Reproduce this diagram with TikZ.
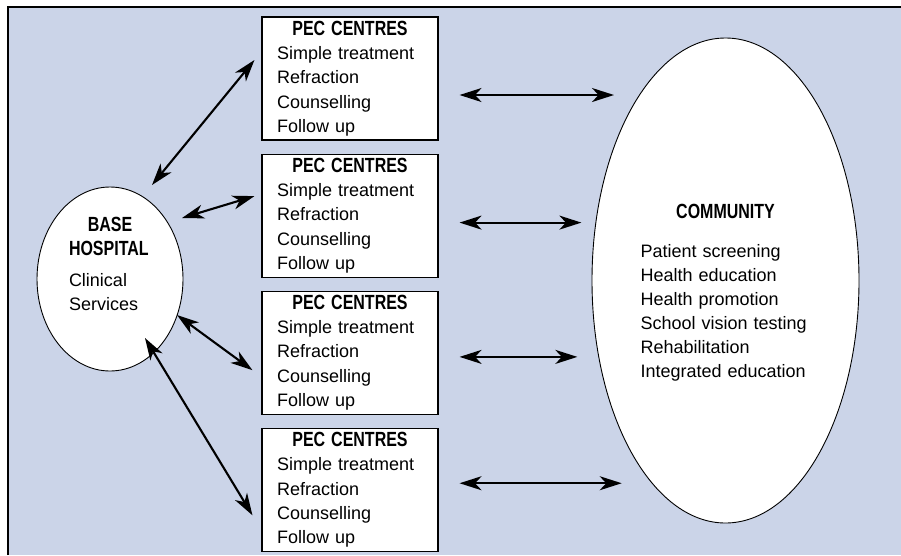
\documentclass[tikz,border=0pt]{standalone}
\usepackage{fontspec}
\setmainfont{Liberation Sans}
\newfontfamily\narrowbf{Liberation Sans}[FakeStretch=0.78]
\usepackage{tikz}
\usetikzlibrary{shapes.geometric,arrows.meta,positioning}
\definecolor{cBack}{HTML}{CBD4E8}
% narrow bold heading, and the same centred over left-aligned lines
\newcommand{\nb}[1]{{\narrowbf\bfseries\fontsize{20.5}{24}\selectfont #1}}
\newcommand{\hd}[1]{\makebox[\linewidth]{\nb{#1}}}

\begin{document}
\begin{tikzpicture}[x=1pt, y=1pt,
    node distance=13pt,
    pec/.style={rectangle, draw, fill=white, line width=1.1pt, minimum width=176pt, minimum height=123pt, text width=146pt, inner xsep=15pt, inner ysep=0pt, align=left, font=\fontsize{18}{24.25}\selectfont},
    oval/.style={ellipse, draw, fill=white, line width=0.9pt, inner sep=0pt, align=left, font=\fontsize{18}{24}\selectfont},
    arr/.style={{Stealth[length=22pt,width=14pt,inset=6.5pt]}-{Stealth[length=22pt,width=14pt,inset=6.5pt]}, line width=2.1pt}
]
\useasboundingbox (0,0) rectangle (901,-555);
\fill[cBack] (8,-7) rectangle (901,-555);
\draw[line width=1.4pt] (8,-555) -- (8,-7) -- (901,-7);

\node[oval, minimum width=146pt, minimum height=184pt, text width=82pt] (base) at (110,-279)
  {\hd{BASE}\\\nb{HOSPITAL}\\[7pt]Clinical\\Services\rule[-30pt]{0pt}{30pt}};

\node[pec] (pec1) at (350,-78.5) {\hd{PEC CENTRES}\\Simple treatment\\Refraction\\Counselling\\Follow up};
\node[pec, below=of pec1] (pec2) {\hd{PEC CENTRES}\\Simple treatment\\Refraction\\Counselling\\Follow up};
\node[pec, below=of pec2] (pec3) {\hd{PEC CENTRES}\\Simple treatment\\Refraction\\Counselling\\Follow up};
\node[pec, below=of pec3] (pec4) {\hd{PEC CENTRES}\\Simple treatment\\Refraction\\Counselling\\Follow up};

\node[oval, minimum width=267pt, minimum height=485pt, text width=170pt] (comm) at (725.5,-280.5)
  {\rule{0pt}{38pt}\hd{COMMUNITY}\\[15pt]Patient screening\\Health education\\Health promotion\\School vision testing\\Rehabilitation\\Integrated education};

% hospital <-> centres
\foreach \i/\bx/\by/\px/\py in {1/42/94/-7/18.5, 2/72/61/-7/19.5, 3/67/-36/-9/-17.5, 4/35/-59/-9/-25.5} {
  \draw[arr] ([shift={(\bx,\by)}]base.center) -- ([shift={(\px,\py)}]pec\i.west);
}
% centres <-> community
\foreach \i/\a/\g in {1/115/25, 2/156/14, 3/211/21, 4/250/30} {
  \draw[arr, shorten <=21pt, shorten >=\g pt] (pec\i.east |- comm.\a) -- (comm.\a);
}
\end{tikzpicture}
\end{document}
